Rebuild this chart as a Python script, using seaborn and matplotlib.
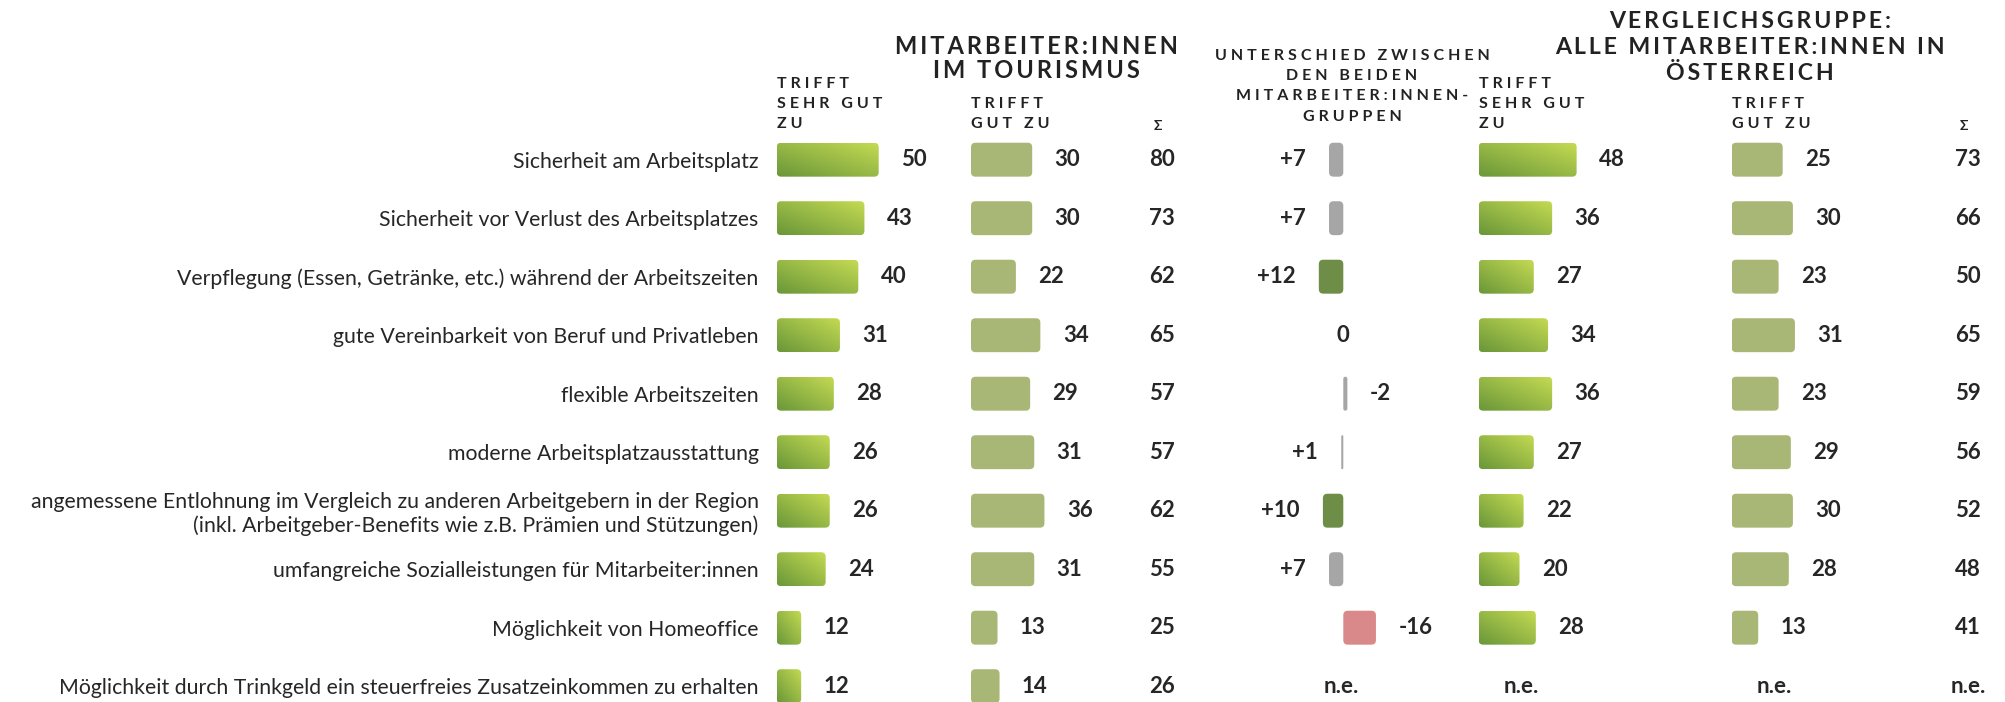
#%%
# Arbeitgeber-Merkmale: Mitarbeiter:innen im Tourismus vs. alle Mitarbeiter:innen in Österreich
import numpy as np
import pandas as pd
import matplotlib
matplotlib.use("Agg")
import matplotlib.pyplot as plt
import seaborn as sns
from matplotlib.patches import FancyBboxPatch
from matplotlib.colors import LinearSegmentedColormap
from matplotlib.transforms import blended_transform_factory

sns.set_style("white")
plt.rcParams['font.family'] = ['Lato', 'DejaVu Sans']

#%%
# Daten (Werte in %)
categories = [
    "Sicherheit am Arbeitsplatz",
    "Sicherheit vor Verlust des Arbeitsplatzes",
    "Verpflegung (Essen, Getränke, etc.) während der Arbeitszeiten",
    "gute Vereinbarkeit von Beruf und Privatleben",
    "flexible Arbeitszeiten",
    "moderne Arbeitsplatzausstattung",
    "angemessene Entlohnung im Vergleich zu anderen Arbeitgebern in der Region\n"
    "(inkl. Arbeitgeber-Benefits wie z.B. Prämien und Stützungen)",
    "umfangreiche Sozialleistungen für Mitarbeiter:innen",
    "Möglichkeit von Homeoffice",
    "Möglichkeit durch Trinkgeld ein steuerfreies Zusatzeinkommen zu erhalten",
]
tour_very = [50, 43, 40, 31, 28, 26, 26, 24, 12, 12]
tour_good = [30, 30, 22, 34, 29, 31, 36, 31, 13, 14]
tour_sum = [80, 73, 62, 65, 57, 57, 62, 55, 25, 26]
diff = [7, 7, 12, 0, -2, 1, 10, 7, -16, np.nan]
all_very = [48, 36, 27, 34, 36, 27, 22, 20, 28, np.nan]
all_good = [25, 30, 23, 31, 23, 29, 30, 28, 13, np.nan]
all_sum = [73, 66, 50, 65, 59, 56, 52, 48, 41, np.nan]

df = pd.DataFrame({
    "Aspekt": categories,
    "tour_very": tour_very,
    "tour_good": tour_good,
    "diff_bar": [-d for d in diff],   # positive Differenz zeigt nach links
    "all_very": all_very,
    "all_good": all_good,
})

def diff_color(d):
    if np.isnan(d) or abs(d) < 10:
        return "#a6a6a6"
    return "#6f9a3b" if d > 0 else "#e67c7c"

diff_colors = [diff_color(d) for d in diff]

#%%
# Layout
W, H = 2006, 702
PX = 2.04            # Pixel pro Prozentpunkt
ROW0, STEP = 159.7, 58.5
ASPECT = PX / STEP
GAP = 11             # Abstand Balken -> Zahl (in Prozentpunkten)
TXT = "#262626"
NUM = dict(fontsize=16, fontweight="bold", color=TXT, va="center")

fig = plt.figure(figsize=(W / 100, H / 100), dpi=100)

def bar_axes(zero_px, lo, hi):
    top = ROW0 - STEP / 2
    ax = fig.add_axes([(zero_px + lo * PX) / W, 0, (hi - lo) * PX / W, (H - top) / H])
    ax.set_facecolor("none")
    return ax

def finish(ax, lo, hi):
    ax.set_xlim(lo, hi)
    ax.set_ylim((H - ROW0) / STEP, -0.5)
    ax.set_xticks([])
    ax.set_xlabel("")
    ax.set_ylabel("")
    sns.despine(ax=ax, left=True, bottom=True)

cmap = LinearSegmentedColormap.from_list("gruen", ["#6a9739", "#c4da52"])
ramp = np.add.outer(np.linspace(1, 0, 40), np.linspace(0, 1, 120)) / 2

def style_bars(ax, gradient=False):
    for p in list(ax.patches):
        x, y, w, h = p.get_x(), p.get_y(), p.get_width(), p.get_height()
        fc = p.get_facecolor()
        p.remove()
        if not np.isfinite(w) or abs(w) < 1e-9:
            continue
        x0, w = min(x, x + w), abs(w)
        r = min(2.2, w / 2)
        box = FancyBboxPatch((x0, y), w, h, boxstyle=f"round,pad=0,rounding_size={r}",
                             mutation_aspect=ASPECT, linewidth=0,
                             facecolor="none" if gradient else fc)
        ax.add_patch(box)
        if gradient:
            im = ax.imshow(ramp, cmap=cmap, vmin=0, vmax=1, extent=(x0, x0 + w, y + h, y),
                           origin="upper", aspect="auto", interpolation="bilinear")
            im.set_clip_path(box)

def value_labels(ax, vals, ne_x=21):
    for i, v in enumerate(vals):
        if np.isnan(v):
            ax.text(ne_x, i, "n.e.", ha="center", **NUM)
        else:
            ax.text(v + GAP, i, f"{v:.0f}", ha="left", **NUM)

#%%
# Balkenspalten
cols = [
    ("tour_very", 776.7, True, "#8db548", tour_very),
    ("tour_good", 971.0, False, "#afc26b", tour_good),
    ("all_very", 1478.7, True, "#8db548", all_very),
    ("all_good", 1731.7, False, "#afc26b", all_good),
]
axes = {}
for col, zero, grad, color, vals in cols:
    ax = bar_axes(zero, 0, 60)
    sns.barplot(data=df, x=col, y="Aspekt", order=categories, orient="h",
                color=color, width=0.58, errorbar=None, ax=ax)
    style_bars(ax, gradient=grad)
    value_labels(ax, vals)
    finish(ax, 0, 60)
    ax.set_yticks([])
    axes[col] = ax

# Kategorienbeschriftung links
ax = axes["tour_very"]
ax.set_yticks(range(len(categories)))
ax.set_yticklabels(categories, fontsize=15.3, color=TXT)
ax.tick_params(axis="y", length=0, pad=13)

# Differenzspalte
ax_d = bar_axes(1343.3, -30, 30)
sns.barplot(data=df, x="diff_bar", y="Aspekt", hue="Aspekt", order=categories,
            palette=diff_colors, orient="h", width=0.58, errorbar=None,
            legend=False, ax=ax_d)
style_bars(ax_d)
for i, d in enumerate(diff):
    if np.isnan(d):
        ax_d.text(-1, i, "n.e.", ha="center", **NUM)
    elif d > 0:
        ax_d.text(-d - GAP - 0.5, i, f"+{d:.0f}", ha="right", **NUM)
    elif d < 0:
        ax_d.text(-d + GAP, i, f"{d:.0f}", ha="left", **NUM)
    else:
        ax_d.text(0, i, "0", ha="center", **NUM)
finish(ax_d, -30, 30)
ax_d.set_yticks([])

# Summenspalten
for vals, xpx, ax in [(tour_sum, 1162, axes["tour_good"]), (all_sum, 1968, axes["all_good"])]:
    tr = blended_transform_factory(fig.transFigure, ax.transData)
    for i, v in enumerate(vals):
        ax.text(xpx / W, i, "n.e." if np.isnan(v) else f"{v:.0f}", transform=tr,
                ha="center", **NUM)

#%%
# Kopfzeilen
def spaced(s, sp):
    return sp.join(s)

def header(x, ys, lines, size, sp, ha="left"):
    for y, line in zip(ys, lines):
        fig.text(x / W, 1 - y / H, spaced(line, sp), ha=ha, va="center",
                 fontsize=size, fontweight="bold", color="#222222")

SUB = dict(size=11.5, sp="\u2005")
header(776.7, [84, 104, 124], ["TRIFFT", "SEHR GUT", "ZU"], **SUB)
header(971.0, [104, 124], ["TRIFFT", "GUT ZU"], **SUB)
header(1478.7, [84, 104, 124], ["TRIFFT", "SEHR GUT", "ZU"], **SUB)
header(1731.7, [104, 124], ["TRIFFT", "GUT ZU"], **SUB)
header(1158, [126], ["Σ"], size=10, sp="", ha="center")
header(1964, [126], ["Σ"], size=10, sp="", ha="center")

header(1036, [46, 70], ["MITARBEITER:INNEN", "IM TOURISMUS"], size=17, sp="\u2009", ha="center")
header(1352, [56, 76, 96.5, 117],
       ["UNTERSCHIED ZWISCHEN", "DEN BEIDEN", "MITARBEITER:INNEN-", "GRUPPEN"],
       size=11.5, sp="\u2005", ha="center")
header(1750, [22, 47, 73], ["VERGLEICHSGRUPPE:", "ALLE MITARBEITER:INNEN IN", "ÖSTERREICH"],
       size=16.7, sp="\u2009", ha="center")

fig.savefig("out.png", dpi=100)
